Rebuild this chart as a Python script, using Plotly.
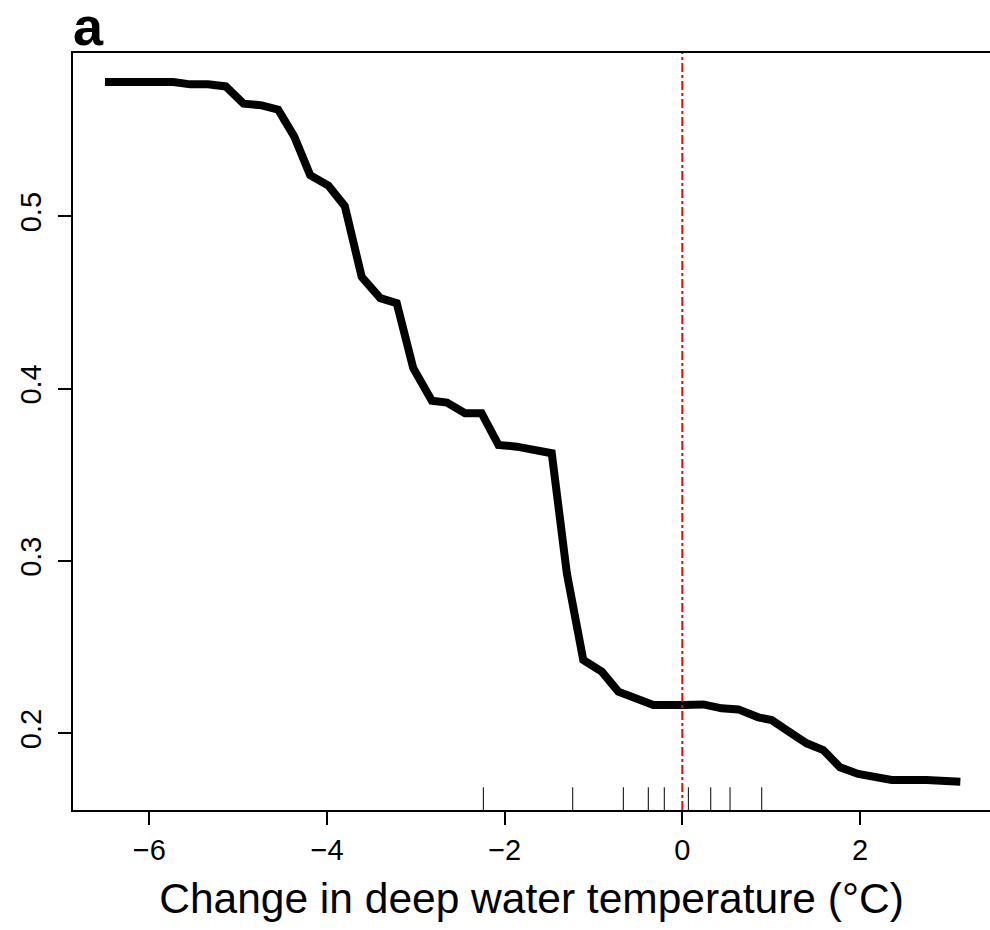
import plotly.graph_objects as go

# partial dependence curve
temp_change = [-6.50, -5.73, -5.54, -5.34, -5.14, -4.94, -4.735, -4.55, -4.37, -4.19,
               -3.985, -3.80, -3.61, -3.40, -3.215, -3.03, -2.82, -2.65, -2.446, -2.26,
               -2.07, -1.864, -1.47, -1.30, -1.115, -0.907, -0.72, -0.532, -0.326, 0.011,
               0.236, 0.443, 0.63, 0.856, 1.006, 1.212, 1.40, 1.587, 1.775, 1.98,
               2.17, 2.357, 2.75, 2.94, 3.13]
response = [0.578, 0.578, 0.5767, 0.5767, 0.5755, 0.5655, 0.5645, 0.562, 0.5465, 0.524,
            0.518, 0.506, 0.465, 0.4526, 0.4497, 0.412, 0.3931, 0.392, 0.3858, 0.3858,
            0.3674, 0.3664, 0.3626, 0.2929, 0.2426, 0.2358, 0.2242, 0.2207, 0.2164, 0.2164,
            0.2168, 0.2145, 0.2139, 0.2093, 0.2077, 0.2006, 0.1942, 0.1903, 0.1803, 0.1764,
            0.1752, 0.1729, 0.1729, 0.1719, 0.1719]

# deciles of the predictor (rug)
rug_x = [-2.24, -1.234, -0.664, -0.383, -0.203, 0.068, 0.320, 0.537, 0.894]

x_ticks = [-6, -4, -2, 0, 2]
y_ticks = [0.2, 0.3, 0.4, 0.5]

font = "Liberation Sans, Arial, sans-serif"

fig = go.Figure()
fig.add_trace(go.Scatter(x=temp_change, y=response, mode='lines',
                         line=dict(color='black', width=8), showlegend=False))

for rx in rug_x:
    fig.add_shape(type='line', xref='x', yref='y domain', x0=rx, x1=rx, y0=0, y1=0.03,
                  line=dict(color='black', width=1))

fig.add_shape(type='line', xref='x', yref='y domain', x0=0, x1=0, y0=0, y1=1,
              line=dict(color='red', width=2, dash='dashdot'))

fig.add_annotation(text='<b>a</b>', xref='paper', yref='paper', x=0.0, y=1.0,
                   xanchor='left', yanchor='bottom', showarrow=False, yshift=-5, xshift=-2,
                   font=dict(family=font, size=54, color='black'))

fig.update_xaxes(range=[-6.86, 3.464], tickvals=x_ticks, ticktext=['\u22126', '\u22124', '\u22122', '0', '2'],
                 ticks='outside', ticklen=13, tickwidth=1.5, tickcolor='black',
                 showline=True, linecolor='black', linewidth=2, mirror=True,
                 showgrid=False, zeroline=False, ticklabelstandoff=0, automargin=False,
                 tickfont=dict(family=font, size=29, color='black'),
                 title=dict(text='Change in deep water temperature (\u00b0C)', standoff=18,
                            font=dict(family=font, size=42.5, color='black')))
fig.update_yaxes(range=[0.1555, 0.5949], tickvals=y_ticks, ticktext=['0.2', '0.3', '0.4', '0.5'],
                 ticks='outside', ticklen=13, tickwidth=1.5, tickcolor='black', tickangle=-90,
                 showline=True, linecolor='black', linewidth=2, mirror=False,
                 showgrid=False, zeroline=False, ticklabelstandoff=5, automargin=False,
                 tickfont=dict(family=font, size=29, color='black'))

fig.update_layout(width=990, height=930, margin=dict(l=73, r=0, t=53, b=120),
                  plot_bgcolor='white', paper_bgcolor='white')

fig.write_html("out.html", config={'displayModeBar': False},
               post_script="document.body.style.margin='0';document.body.style.overflow='hidden';")
